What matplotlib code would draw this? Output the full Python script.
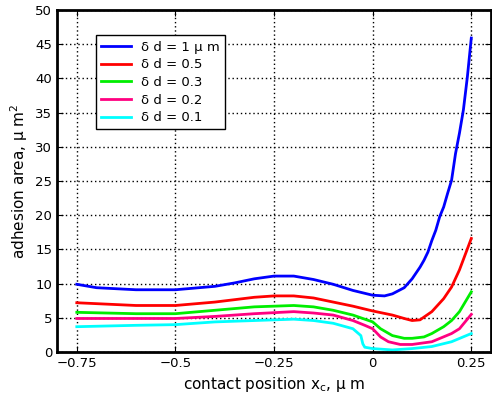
import matplotlib.pyplot as plt
import numpy as np

plt.rcParams['font.family'] = ['DejaVu Sans']

# values (x in um, y in um^2)
x_blue = [-0.75, -0.7, -0.6, -0.5, -0.4, -0.35, -0.3, -0.25, -0.2, -0.15, -0.1, -0.05, 0.0, 0.03,
          0.05, 0.08, 0.1, 0.12, 0.13, 0.14, 0.15, 0.16, 0.17, 0.18, 0.19, 0.2, 0.21, 0.22,
          0.23, 0.235, 0.24, 0.25]
y_blue = [9.9, 9.4, 9.1, 9.1, 9.6, 10.1, 10.7, 11.1, 11.1, 10.6, 9.9, 9.0, 8.3, 8.2,
          8.5, 9.4, 10.7, 12.4, 13.4, 14.6, 16.3, 17.8, 19.8, 21.2, 23.2, 25.1, 29.0, 32.0,
          35.4, 37.8, 40.2, 45.9]

x_red = [-0.75, -0.6, -0.5, -0.4, -0.3, -0.25, -0.2, -0.15, -0.1, -0.05, 0.0, 0.05,
         0.08, 0.1, 0.12, 0.15, 0.18, 0.2, 0.22, 0.25]
y_red = [7.2, 6.8, 6.8, 7.3, 8.0, 8.2, 8.2, 7.9, 7.3, 6.7, 6.0, 5.4,
         4.9, 4.6, 4.7, 5.9, 7.8, 9.5, 12.0, 16.6]

x_green = [-0.75, -0.6, -0.5, -0.4, -0.3, -0.2, -0.15, -0.1, -0.05, 0.0, 0.02, 0.05,
           0.08, 0.1, 0.13, 0.15, 0.18, 0.2, 0.22, 0.25]
y_green = [5.8, 5.6, 5.6, 6.1, 6.6, 6.8, 6.6, 6.1, 5.4, 4.4, 3.4, 2.4,
           2.0, 2.0, 2.2, 2.7, 3.7, 4.6, 5.9, 8.8]

x_pink = [-0.75, -0.5, -0.4, -0.3, -0.2, -0.15, -0.1, -0.05, -0.02, 0.0, 0.02, 0.04,
          0.07, 0.1, 0.15, 0.2, 0.22, 0.25]
y_pink = [4.9, 4.9, 5.2, 5.6, 5.9, 5.7, 5.4, 4.6, 3.9, 3.4, 2.2, 1.5,
          1.1, 1.1, 1.5, 2.7, 3.4, 5.5]

x_cyan = [-0.75, -0.6, -0.5, -0.4, -0.3, -0.2, -0.15, -0.1, -0.05, -0.03, -0.025, -0.02,
          0.0, 0.05, 0.1, 0.15, 0.2, 0.25]
y_cyan = [3.7, 3.9, 4.0, 4.4, 4.6, 4.8, 4.6, 4.2, 3.4, 2.4, 1.2, 0.7,
          0.5, 0.3, 0.5, 0.8, 1.5, 2.7]

labels = ['δ d = 1 μ m', 'δ d = 0.5', 'δ d = 0.3', 'δ d = 0.2', 'δ d = 0.1']
colors = ['#0000ff', '#ff0000', '#00ee00', '#ff0080', '#00ffff']

fig = plt.figure(figsize=(4.92, 4.0), dpi=100)
ax = fig.add_axes([0.116, 0.12, 0.882, 0.855])

series = [(x_blue, y_blue), (x_red, y_red), (x_green, y_green),
          (x_pink, y_pink), (x_cyan, y_cyan)]
for (xs, ys), lab, c in zip(series, labels, colors):
    ax.plot(xs, ys, color=c, lw=2, label=lab)

ax.set_xlim(-0.8, 0.3)
ax.set_ylim(0, 50)
ax.set_xticks([-0.75, -0.5, -0.25, 0, 0.25])
ax.set_xticklabels(['−0.75', '−0.5', '−0.25', '0', '0.25'])
ax.set_yticks(np.arange(0, 51, 5))
ax.tick_params(direction='in', length=4, labelsize=9.5, right=True, top=True)
ax.grid(True, color='black', linestyle=(0, (1, 2)), linewidth=1)
for s in ax.spines.values():
    s.set_linewidth(2)

ax.set_xlabel('contact position x$_\\mathregular{c}$, μ m', fontsize=11)
ax.set_ylabel('adhesion area, μ m$^\\mathregular{2}$', fontsize=11)

leg = ax.legend(loc='upper left', bbox_to_anchor=(0.075, 0.945), fontsize=9.5,
                fancybox=False, framealpha=1, edgecolor='black',
                handlelength=2.2, borderpad=0.4, labelspacing=0.35)
leg.get_frame().set_linewidth(1)

plt.savefig('out.png')
